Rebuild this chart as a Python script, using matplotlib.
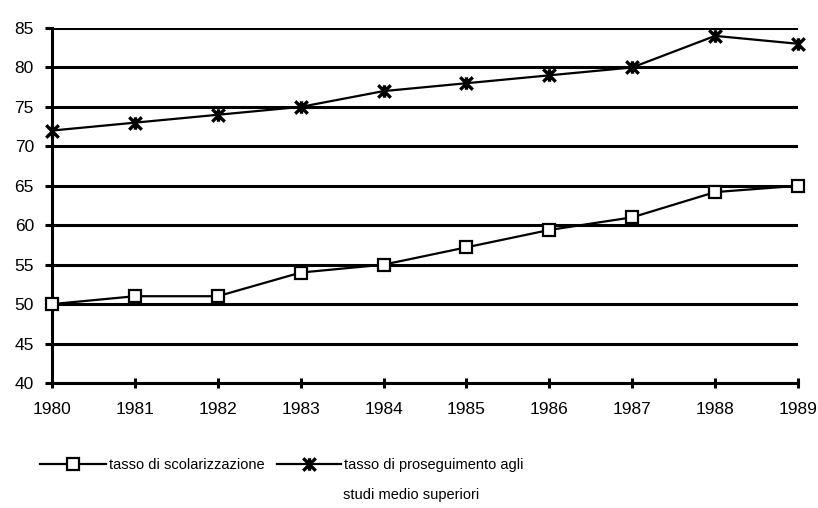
import matplotlib.pyplot as plt
from matplotlib.path import Path
from matplotlib.ticker import MultipleLocator

plt.rcParams["font.family"] = ["Liberation Sans", "DejaVu Sans"]

years = [1980, 1981, 1982, 1983, 1984, 1985, 1986, 1987, 1988, 1989]
scolarizzazione = [50, 51, 51, 54, 55, 57.2, 59.4, 61, 64.2, 65]
proseguimento = [72, 73, 74, 75, 77, 78, 79, 80, 84, 83]

label_scol = "tasso di scolarizzazione"
label_pros = ["tasso di proseguimento agli", "studi medio superiori"]

# Excel-style star marker: an X with a vertical bar
star = Path([(-1, -1), (1, 1), (-1, 1), (1, -1), (0, -1), (0, 1)],
            [Path.MOVETO, Path.LINETO, Path.MOVETO, Path.LINETO,
             Path.MOVETO, Path.LINETO])

fig = plt.figure(figsize=(8.18, 5.08), dpi=100)
ax = fig.add_axes([52 / 818, 125 / 508, 746 / 818, 355 / 508])

l1, = ax.plot(years, scolarizzazione, color="black", lw=1.6, marker="s",
              ms=8.5, mfc="white", mec="black", mew=1.6, clip_on=False,
              zorder=3)
l2, = ax.plot(years, proseguimento, color="black", lw=1.6, marker=star,
              ms=9, mew=2.4, clip_on=False, zorder=3)

ax.set_xlim(1980, 1989)
ax.set_ylim(40, 85)
ax.xaxis.set_major_locator(MultipleLocator(1))
ax.yaxis.set_major_locator(MultipleLocator(5))
ax.grid(True, axis="y", color="black", lw=2.2)
ax.set_axisbelow(True)

for side in ["top", "right"]:
    ax.spines[side].set_visible(False)
for side in ["left", "bottom"]:
    ax.spines[side].set_linewidth(2.2)

ax.tick_params(axis="y", direction="out", length=5, width=2.2,
               labelsize=12.5, pad=8)
ax.tick_params(axis="x", direction="inout", length=7, width=2.2,
               labelsize=12.5, pad=10)

leg_kw = dict(frameon=False, handletextpad=0.2, borderaxespad=0,
              borderpad=0, bbox_transform=fig.transFigure,
              prop=dict(size=10.5))
leg1 = fig.legend([l1], [label_scol], loc="upper left",
                  bbox_to_anchor=(40 / 818, 1 - 458 / 508),
                  handlelength=4.5, **leg_kw)
leg2 = fig.legend([l2], [label_pros[0]], loc="upper left",
                  bbox_to_anchor=(277 / 818, 1 - 458 / 508),
                  handlelength=4.4, **leg_kw)
fig.text(343 / 818, 1 - 499 / 508, label_pros[1], fontsize=10.5,
         va="baseline")

fig.savefig("out.png", dpi=100)
